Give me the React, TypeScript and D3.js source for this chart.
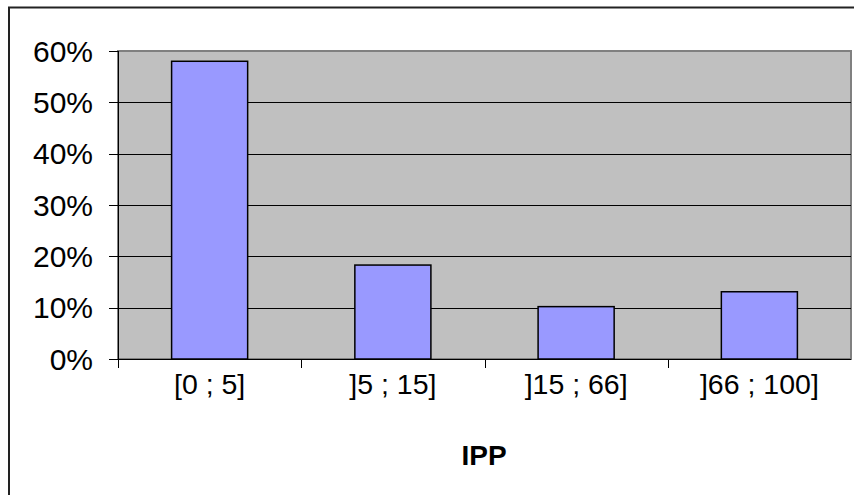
import React from "react";
import * as d3 from "d3";

const categories = ["[0 ; 5]", "]5 ; 15]", "]15 ; 66]", "]66 ; 100]"];
const values = [0.58, 0.183, 0.102, 0.131];
const yTicks = [0, 0.1, 0.2, 0.3, 0.4, 0.5, 0.6];
const xTitle = "IPP";

const W = 854;
const H = 495;
const plot = { left: 118, right: 851, top: 51, bottom: 359 };
const FONT = "'Liberation Sans', Arial, sans-serif";

export default function App() {
  const x = d3
    .scaleBand<string>()
    .domain(categories)
    .range([plot.left, plot.right])
    .paddingInner(0.585)
    .paddingOuter(0.2925);
  const y = d3.scaleLinear().domain([0, 0.6]).range([plot.bottom, plot.top]);
  const step = (plot.right - plot.left) / categories.length;
  const boundaries = d3.range(categories.length + 1).map((i) => plot.left + i * step);
  const fmt = d3.format(".0%");

  return (
    <svg
      width={W}
      height={H}
      style={{ position: "absolute", left: 0, top: 0, background: "#fff" }}
      fontFamily={FONT}
    >
      <rect x={0} y={0} width={W} height={H} fill="#fff" />
      {/* outer chart frame */}
      <rect x={9} y={7.5} width={900} height={520} fill="none" stroke="#222" strokeWidth={2} />
      {/* plot area */}
      <rect
        x={plot.left}
        y={plot.top}
        width={plot.right - plot.left}
        height={plot.bottom - plot.top}
        fill="#C0C0C0"
        stroke="#808080"
        strokeWidth={2}
      />
      {/* gridlines */}
      {yTicks.slice(1, -1).map((t) => (
        <line
          key={t}
          x1={plot.left}
          x2={plot.right}
          y1={Math.round(y(t)) + 0.5}
          y2={Math.round(y(t)) + 0.5}
          stroke="#000"
          strokeWidth={1}
        />
      ))}
      {/* bars */}
      {categories.map((c, i) => (
        <rect
          key={c}
          x={x(c)!}
          y={y(values[i])}
          width={x.bandwidth()}
          height={plot.bottom - y(values[i])}
          fill="#9999FF"
          stroke="#000"
          strokeWidth={1.5}
        />
      ))}
      {/* y axis */}
      <line x1={plot.left + 0.5} x2={plot.left + 0.5} y1={plot.top} y2={plot.bottom + 9} stroke="#000" />
      {yTicks.map((t) => (
        <g key={t}>
          <line
            x1={plot.left - 9}
            x2={plot.left}
            y1={Math.round(y(t)) + 0.5}
            y2={Math.round(y(t)) + 0.5}
            stroke="#000"
          />
          <text x={93} y={y(t)} dy="0.36em" textAnchor="end" fontSize={30} fill="#000">
            {fmt(t)}
          </text>
        </g>
      ))}
      {/* x axis */}
      <line x1={plot.left} x2={plot.right} y1={plot.bottom + 0.5} y2={plot.bottom + 0.5} stroke="#000" />
      {boundaries.slice(0, -1).map((b, i) => (
        <line
          key={i}
          x1={Math.round(b) + 0.5}
          x2={Math.round(b) + 0.5}
          y1={plot.bottom}
          y2={plot.bottom + 9}
          stroke="#000"
        />
      ))}
      {categories.map((c) => (
        <text
          key={c}
          x={x(c)! + x.bandwidth() / 2}
          y={394}
          textAnchor="middle"
          fontSize={28.5}
          fill="#000"
        >
          {c}
        </text>
      ))}
      <text x={484} y={465} textAnchor="middle" fontSize={28} fontWeight="bold" fill="#000">
        {xTitle}
      </text>
    </svg>
  );
}
